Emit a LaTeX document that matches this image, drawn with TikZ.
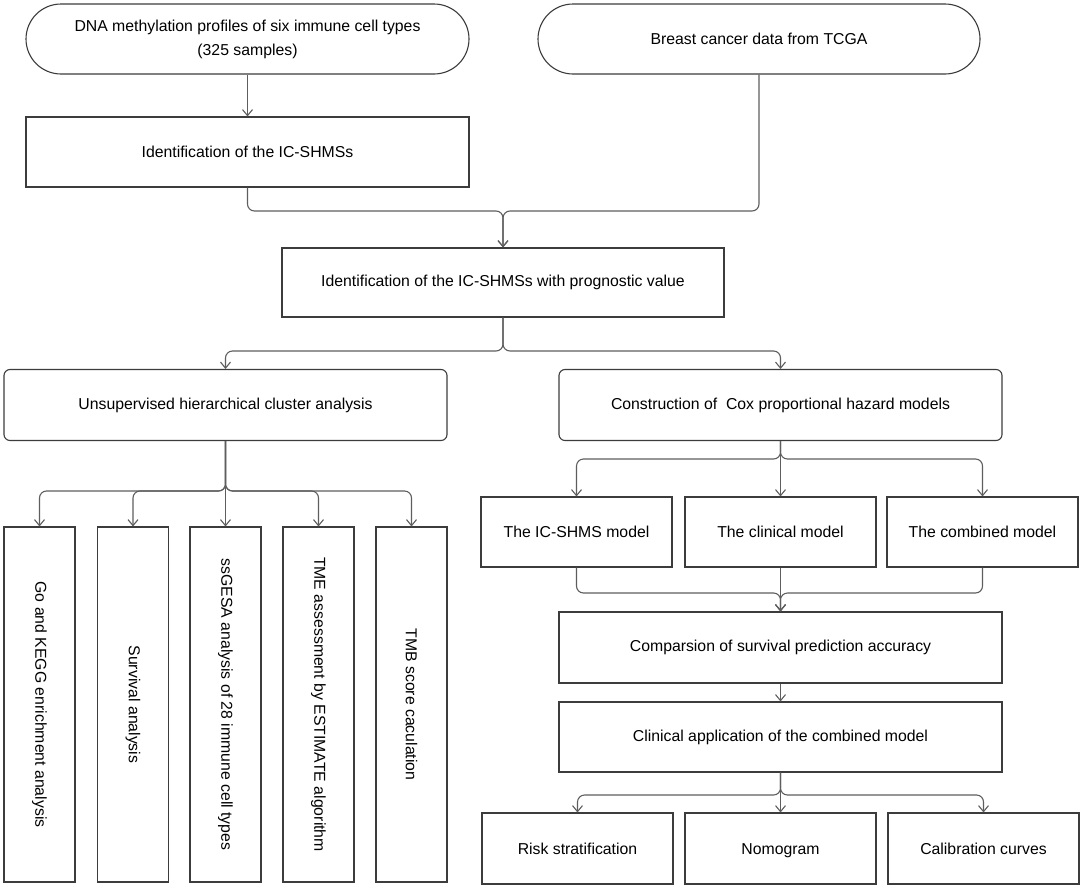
\documentclass[tikz,border=0pt]{standalone}
\usepackage{fontspec}
\setmainfont{Liberation Sans}
\usepackage{graphicx}
\usetikzlibrary{arrows.meta}
\definecolor{edgec}{HTML}{3C3C3C}
\definecolor{connc}{HTML}{5E5E5E}
\begin{document}
\begin{tikzpicture}[x=1pt,y=-1pt,
 font=\fontsize{15.8}{24}\selectfont,
 base/.style={draw=edgec, line width=1.1pt, inner sep=0pt, fill=white},
 pill/.style={base, align=center, rounded corners=35pt, minimum width=443pt, minimum height=70pt},
 rbox/.style={base, rounded corners=6pt, minimum width=443pt, minimum height=71pt},
 wbox/.style={base, minimum width=443pt, minimum height=70pt},
 sbox/.style={base, minimum width=191pt, minimum height=70pt, text height=11.5pt, text depth=0pt},
 vbox/.style={base, minimum width=71pt, minimum height=355pt},
 link/.style={draw=connc, line width=1.1pt, rounded corners=7pt, -{Straight Barb[length=6pt,width=10pt]}}
]
\fill[white] (0,0) rectangle (1084,889);
\useasboundingbox (0,0) rectangle (1084,889);

% top row
\node[pill] (p1) at (247.5,39) {DNA methylation profiles of six immune cell types\\(325 samples)};
\node[pill, minimum width=442pt] (p2) at (759,39) {Breast cancer data from TCGA};
\node[wbox] (b1) at (247.5,152) {Identification of the IC-SHMSs};
\node[wbox, minimum width=442pt, minimum height=69pt] (b3) at (503,282.5) {Identification of the IC-SHMSs with prognostic value};

% second level
\node[rbox] (u) at (225.5,405) {Unsupervised hierarchical cluster analysis};
\node[rbox] (c) at (780.5,405) {Construction of\ \ Cox proportional hazard models};

% vertical boxes
\node[vbox] (v1) at (39.5,704.5) {\rotatebox{-90}{Go and KEGG enrichment analysis}};
\node[vbox] (v2) at (133,704.5) {\rotatebox{-90}{Survival analysis}};
\node[vbox] (v3) at (225.5,704.5) {\rotatebox{-90}{ssGESA analysis of 28 immune cell types}};
\node[vbox] (v4) at (318.5,704.5) {\rotatebox{-90}{TME assessment by ESTIMATE algorithm}};
\node[vbox] (v5) at (411.5,704.5) {\rotatebox{-90}{TMB score caculation}};

% models
\node[sbox] (m1) at (576.5,532) {The IC-SHMS model};
\node[sbox] (m2) at (780.5,532) {The clinical model};
\node[sbox] (m3) at (982.5,532) {The combined model};

\node[wbox, minimum height=71pt] (cmp) at (780.5,647.5) {Comparsion of survival prediction accuracy};
\node[wbox] (app) at (780.5,737) {Clinical application of the combined model};

\node[sbox, minimum height=71pt] (r1) at (577.5,848.5) {Risk stratification};
\node[sbox, minimum height=71pt] (r2) at (780.5,848.5) {Nomogram};
\node[sbox, minimum height=71pt] (r3) at (983.5,848.5) {Calibration curves};

% junction coordinates
\coordinate (j1) at (503,211);
\coordinate (s1) at (503,351);
\coordinate (s2) at (225.5,491);
\coordinate (s3) at (780.5,459);
\coordinate (j2) at (780.5,593);
\coordinate (s4) at (780.5,795);

% connectors
\draw[link] (p1.south) -- (b1.north);
\draw[link] (b1.south) |- (j1) -- (b3.north);
\draw[link] (p2.south) |- (j1) -- (b3.north);

\draw[link] (b3.south) -- (s1) -| (u.north);
\draw[link] (b3.south) -- (s1) -| (c.north);

\draw[link] (u.south) -- (s2) -| (v1.north);
\draw[link] (u.south) -- (s2) -| (v2.north);
\draw[link] (u.south) -- (v3.north);
\draw[link] (u.south) -- (s2) -| (v4.north);
\draw[link] (u.south) -- (s2) -| (v5.north);

\draw[link] (c.south) -- (s3) -| (m1.north);
\draw[link] (c.south) -- (m2.north);
\draw[link] (c.south) -- (s3) -| (m3.north);

\draw[link] (m1.south) |- (j2) -- (cmp.north);
\draw[link] (m2.south) -- (cmp.north);
\draw[link] (m3.south) |- (j2) -- (cmp.north);

\draw[link] (cmp.south) -- (app.north);

\draw[link] (app.south) -- (s4) -| (r1.north);
\draw[link] (app.south) -- (r2.north);
\draw[link] (app.south) -- (s4) -| (r3.north);
\end{tikzpicture}
\end{document}
